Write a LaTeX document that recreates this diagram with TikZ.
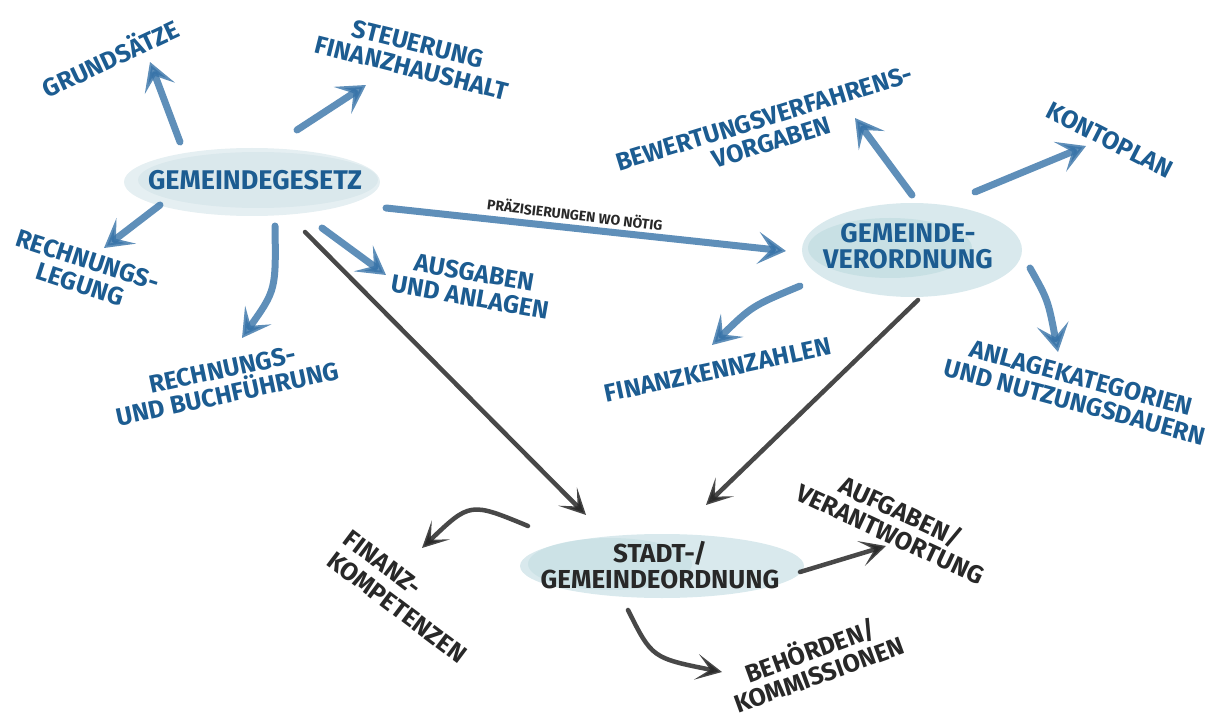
\documentclass[tikz,border=0pt]{standalone}
\usepackage{fontspec}
\setmainfont{Fira Sans}
\usetikzlibrary{arrows.meta,shapes.geometric}
\definecolor{txtblue}{RGB}{28,92,145}
\definecolor{arrblue}{RGB}{55,115,168}
\definecolor{blobA}{RGB}{218,232,236}
\definecolor{blobB}{RGB}{196,222,227}
\definecolor{blobC}{RGB}{208,228,232}
\definecolor{inkgrey}{RGB}{40,40,40}
\begin{document}
\begin{tikzpicture}[x=1pt,y=-1pt,
  lbl/.style={text=txtblue, font=\fontsize{25}{25}\selectfont\bfseries, align=center, inner sep=1pt},
  klbl/.style={lbl, text=inkgrey},
  small/.style={text=inkgrey, font=\fontsize{14}{14}\selectfont\bfseries, inner sep=1pt},
  blob/.style={ellipse, inner sep=0pt, align=center, font=\fontsize{27}{26}\selectfont\bfseries},
  barrow/.style={draw=arrblue, line width=7pt, opacity=0.8, line cap=round,
    -{Stealth[length=28pt,width=32pt,inset=13pt]}},
  karrow/.style={draw=inkgrey, line width=4.5pt, opacity=0.85, line cap=round,
    -{Stealth[length=26pt,width=26pt,inset=14pt]}}
]
\useasboundingbox (0,0) rectangle (1216,722);

% blobs
\fill[blobA, opacity=0.7] (252,182) ellipse [x radius=128, y radius=34];
\fill[blobA] (258,180) ellipse [x radius=120, y radius=28];
\node[blob, text=txtblue, minimum width=240pt, minimum height=58pt] (gg) at (255,180) {GEMEINDEGESETZ};

\fill[blobC, opacity=0.8] (912,250) ellipse [x radius=110, y radius=47];
\fill[blobB, opacity=0.8] (890,248) ellipse [x radius=82, y radius=30];
\node[blob, text=txtblue, minimum width=210pt, minimum height=90pt] (gv) at (908,246) {GEMEINDE-\\VERORDNUNG};

\fill[blobC, opacity=0.8] (662,566) ellipse [x radius=142, y radius=32];
\fill[blobB, opacity=0.6] (610,564) ellipse [x radius=82, y radius=26];
\node[blob, text=inkgrey, font=\fontsize{26}{26}\selectfont\bfseries, minimum width=270pt, minimum height=60pt] (so) at (660,565) {STADT-/\\GEMEINDEORDNUNG};

% labels
\node[lbl, rotate=25] (grund) at (110,57) {GRUNDSÄTZE};
\node[lbl, rotate=-14] (steuer) at (415,56) {STEUERUNG\\FINANZHAUSHALT};
\node[lbl, rotate=-18] (rlegung) at (84,272) {RECHNUNGS-\\LEGUNG};
\node[lbl, rotate=12] (rbuch) at (225,382) {RECHNUNGS-\\UND BUCHFÜHRUNG};
\node[lbl, rotate=-10] (ausg) at (472,285) {AUSGABEN\\UND ANLAGEN};
\node[lbl, rotate=17] (bewert) at (768,130) {BEWERTUNGSVERFAHRENS-\\VORGABEN};
\node[lbl, rotate=-27] (konto) at (1110,140) {KONTOPLAN};
\node[lbl, rotate=12] (fkz) at (718,370) {FINANZKENNZAHLEN};
\node[lbl, rotate=-15] (anlage) at (1078,390) {ANLAGEKATEGORIEN\\UND NUTZUNGSDAUERN};
\node[klbl, rotate=-25] (aufg) at (896,522) {AUFGABEN/\\VERANTWORTUNG};
\node[klbl, rotate=-37, align=left, font=\fontsize{25}{27}\selectfont\bfseries] (fink) at (405,597) {FINANZ-\\KOMPETENZEN};
\node[klbl, rotate=20] (beh) at (814,661) {BEHÖRDEN/\\KOMMISSIONEN};
\node[small, rotate=-7] (praez) at (575,214) {PRÄZISIERUNGEN WO NÖTIG};

% connector end points
\coordinate (gg1) at (180,142); \coordinate (grundE) at (150,62);
\coordinate (gg2) at (297,130); \coordinate (steuerE) at (366,85);
\coordinate (gg3) at (160,205); \coordinate (rlegE) at (104,248);
\coordinate (gg4) at (275,226); \coordinate (rbuchE) at (242,338);
\coordinate (gg5) at (322,228); \coordinate (ausgE) at (386,275);
\coordinate (gg6) at (386,208); \coordinate (gvW) at (786,251);
\coordinate (gg7) at (305,232); \coordinate (soN1) at (586,515);
\coordinate (gv1) at (912,195); \coordinate (bewE) at (855,118);
\coordinate (gv2) at (975,192); \coordinate (kontoE) at (1086,146);
\coordinate (gv3) at (800,286); \coordinate (fkzE) at (712,345);
\coordinate (gv4) at (1030,268); \coordinate (anlE) at (1058,352);
\coordinate (gv5) at (918,300); \coordinate (soN2) at (706,505);
\coordinate (so1) at (528,526); \coordinate (finkE) at (422,548);
\coordinate (so2) at (800,572); \coordinate (aufgE) at (886,546);
\coordinate (so3) at (628,610); \coordinate (behE) at (722,672);

% blue arrows
\draw[barrow] (gg1) -- (grundE);
\draw[barrow] (gg2) -- (steuerE);
\draw[barrow] (gg3) -- (rlegE);
\draw[barrow] (gg4) .. controls (276,290) .. (rbuchE);
\draw[barrow] (gg5) -- (ausgE);
\draw[barrow] (gg6) -- (gvW);
\draw[barrow] (gv1) -- (bewE);
\draw[barrow] (gv2) -- (kontoE);
\draw[barrow] (gv3) .. controls (752,306) .. (fkzE);
\draw[barrow] (gv4) .. controls (1048,300) .. (anlE);

% dark arrows
\draw[karrow] (gg7) -- (soN1);
\draw[karrow] (gv5) -- (soN2);
\draw[karrow] (so1) .. controls (470,502) .. (finkE);
\draw[karrow] (so2) -- (aufgE);
\draw[karrow] (so3) .. controls (652,658) .. (behE);
\end{tikzpicture}
\end{document}
